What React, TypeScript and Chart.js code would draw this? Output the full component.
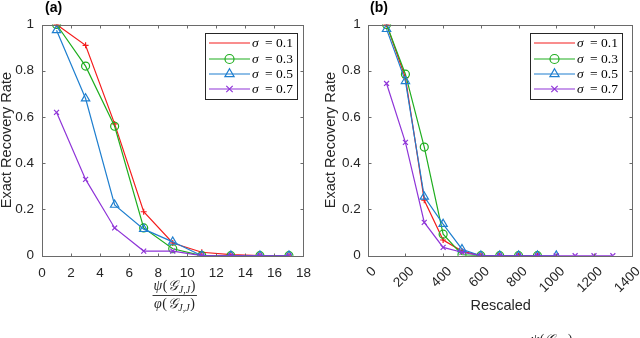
import React, { useEffect, useRef } from 'react';
import { Chart, registerables } from 'chart.js';

Chart.register(...registerables);

// ---------------- data ----------------
const leftX = [1, 3, 5, 7, 9, 11, 13, 15, 17];
const leftS01 = [1.0, 0.91, 0.57, 0.19, 0.055, 0.015, 0.005, 0, 0];
const leftS03 = [1.0, 0.82, 0.56, 0.12, 0.03, 0, 0, 0, 0];
const leftS05 = [0.975, 0.68, 0.22, 0.115, 0.06, 0, 0, 0, 0];
const leftS07 = [0.62, 0.33, 0.12, 0.02, 0.02, 0, 0, 0, 0];

const rightX = [100, 200, 300, 400, 500, 600, 700, 800, 900, 1000, 1100, 1200, 1300];
const rightS01 = [1.0, 0.77, 0.24, 0.068, 0.02, 0, 0, 0, 0];
const rightS03 = [1.0, 0.785, 0.47, 0.093, 0.004, 0, 0, 0, 0];
const rightS05 = [0.98, 0.755, 0.255, 0.137, 0.028, 0, 0, 0, 0, 0];
const rightS07 = [0.745, 0.49, 0.144, 0.036, 0.015, 0, 0, 0, 0, 0, 0, 0, 0];

const sigmaLabels = ['0.1', '0.3', '0.5', '0.7'];
const leftXTicks = { min: 0, max: 18, step: 2 };
const rightXTicks = { min: 0, max: 1400, step: 200 };
const yTicks = { min: 0, max: 1, step: 0.2 };

// ---------------- styles ----------------
const COLORS = ['#f41c1c', '#1fae1f', '#1f7fcf', '#8f35d8'];
const STYLES = ['cross', 'circle', 'triangle', 'crossRot'];
const RADII = [3, 4, 4.8, 3.5];
const TEXT = '#262626';
const AXIS = '#6a6a6a';
const SANS = "'Liberation Sans', Arial, Helvetica, sans-serif";
const SERIF = "'Liberation Serif', 'DejaVu Serif', serif";
const TICK_SIZE = 13.5;
const LABEL_SIZE = 14.5;

function drawMarker(ctx: CanvasRenderingContext2D, style: string, x: number, y: number, r: number, color: string) {
  ctx.save();
  ctx.strokeStyle = color;
  ctx.lineWidth = 1.2;
  ctx.beginPath();
  if (style === 'circle') {
    ctx.arc(x, y, r, 0, Math.PI * 2);
  } else if (style === 'triangle') {
    for (let i = 0; i < 3; i++) {
      const a = (i * 2 * Math.PI) / 3;
      const px = x + Math.sin(a) * r;
      const py = y - Math.cos(a) * r;
      if (i === 0) ctx.moveTo(px, py); else ctx.lineTo(px, py);
    }
    ctx.closePath();
  } else if (style === 'cross') {
    ctx.moveTo(x - r, y); ctx.lineTo(x + r, y);
    ctx.moveTo(x, y - r); ctx.lineTo(x, y + r);
  } else if (style === 'crossRot') {
    const d = r * 0.8;
    ctx.moveTo(x - d, y - d); ctx.lineTo(x + d, y + d);
    ctx.moveTo(x + d, y - d); ctx.lineTo(x - d, y + d);
  }
  ctx.stroke();
  ctx.restore();
}

function drawMath(ctx: CanvasRenderingContext2D, head: string, cx: number, cy: number, size: number) {
  // head(𝒢_{J,J})
  const parts: { t: string; font: string; dy: number }[] = [
    { t: head, font: `italic ${size}px ${SERIF}`, dy: 0 },
    { t: '(', font: `${size}px ${SERIF}`, dy: 0 },
    { t: '𝒢', font: `italic ${size}px ${SERIF}`, dy: 0 },
    { t: 'J,J', font: `italic ${Math.round(size * 0.7)}px ${SERIF}`, dy: size * 0.28 },
    { t: ')', font: `${size}px ${SERIF}`, dy: 0 },
  ];
  let total = 0;
  const widths = parts.map((p) => { ctx.font = p.font; const w = ctx.measureText(p.t).width; total += w + 0.6; return w; });
  let x = cx - total / 2;
  ctx.textBaseline = 'middle';
  ctx.textAlign = 'left';
  parts.forEach((p, i) => {
    ctx.font = p.font;
    ctx.fillText(p.t, x, cy + p.dy);
    x += widths[i] + 0.6;
  });
  return total;
}

interface DecorParams {
  panel: string;
  panelX: number;
  legendBox: { x: number; y: number; w: number; h: number };
  kind: 'fraction' | 'rescaled';
}

function makeDecor(p: DecorParams) {
  return {
    id: 'decor',
    afterDraw(chart: any) {
      const { ctx, chartArea: a, scales } = chart;
      const xs = scales.x;
      const ys = scales.y;
      ctx.save();
      // box
      ctx.strokeStyle = AXIS;
      ctx.lineWidth = 1;
      const L = Math.round(a.left) + 0.5, T = Math.round(a.top) + 0.5;
      const R = Math.round(a.right) + 0.5, B = Math.round(a.bottom) + 0.5;
      ctx.strokeRect(L, T, R - L, B - T);
      // inward ticks
      const tl = 3;
      ctx.beginPath();
      for (const t of xs.ticks) {
        const px = Math.round(xs.getPixelForValue(t.value)) + 0.5;
        ctx.moveTo(px, B); ctx.lineTo(px, B - tl);
        ctx.moveTo(px, T); ctx.lineTo(px, T + tl);
      }
      for (const t of ys.ticks) {
        const py = Math.round(ys.getPixelForValue(t.value)) + 0.5;
        ctx.moveTo(L, py); ctx.lineTo(L + tl, py);
        ctx.moveTo(R, py); ctx.lineTo(R - tl, py);
      }
      ctx.stroke();

      // rotated x tick labels (right panel)
      if (p.kind === 'rescaled') {
        ctx.fillStyle = TEXT;
        ctx.font = `${TICK_SIZE}px ${SANS}`;
        ctx.textAlign = 'right';
        ctx.textBaseline = 'middle';
        for (const t of xs.ticks) {
          const px = xs.getPixelForValue(t.value);
          ctx.save();
          ctx.translate(px + 6.5, a.bottom + 13.5);
          ctx.rotate(-Math.PI / 4);
          ctx.fillText(String(t.value), 0, 0);
          ctx.restore();
        }
      }

      // legend
      const lb = p.legendBox;
      ctx.fillStyle = '#ffffff';
      ctx.fillRect(lb.x, lb.y, lb.w, lb.h);
      ctx.strokeStyle = TEXT;
      ctx.lineWidth = 1;
      ctx.strokeRect(lb.x + 0.5, lb.y + 0.5, lb.w, lb.h);
      const rowYs = [10, 26, 41, 56];
      sigmaLabels.forEach((s, i) => {
        const y = lb.y + rowYs[i];
        const x0 = lb.x + 4, x1 = lb.x + 45;
        ctx.strokeStyle = COLORS[i];
        ctx.lineWidth = 1.2;
        ctx.beginPath(); ctx.moveTo(x0, y); ctx.lineTo(x1, y); ctx.stroke();
        if (i > 0) drawMarker(ctx, STYLES[i], (x0 + x1) / 2, y, RADII[i] + 0.5, COLORS[i]);
        ctx.fillStyle = '#000';
        ctx.textBaseline = 'middle';
        ctx.textAlign = 'left';
        ctx.font = `italic 13.5px ${SERIF}`;
        ctx.fillText('σ', x1 + 2, y);
        ctx.font = `13.5px ${SERIF}`;
        ctx.fillText('=', x1 + 15, y);
        ctx.fillText(s, x1 + 26, y);
      });

      // panel label
      ctx.fillStyle = '#000';
      ctx.font = `bold 14px ${SANS}`;
      ctx.textAlign = 'left';
      ctx.textBaseline = 'top';
      ctx.fillText(p.panel, p.panelX, 1);

      // x label
      const cx = (a.left + a.right) / 2;
      ctx.fillStyle = TEXT;
      if (p.kind === 'fraction') {
        const w = drawMath(ctx, 'ψ', cx + 2, 286, 14);
        ctx.strokeStyle = TEXT;
        ctx.lineWidth = 0.9;
        ctx.beginPath(); ctx.moveTo(cx + 2 - w / 2 - 1, 295.5); ctx.lineTo(cx + 2 + w / 2 + 1, 295.5); ctx.stroke();
        drawMath(ctx, 'φ', cx + 2, 304.5, 14);
      } else {
        ctx.font = `${LABEL_SIZE}px ${SANS}`;
        ctx.textAlign = 'center';
        ctx.textBaseline = 'middle';
        ctx.fillText('Rescaled', cx + 1, 306);
        // partially visible text at the bottom edge
        drawMath(ctx, 'ψ', cx + 52, 340.5, 14);
      }
      ctx.restore();
    },
  };
}

interface PanelProps {
  xs: number[];
  series: number[][];
  xRange: { min: number; max: number; step: number };
  yAxisWidth: number;
  rightPad: number;
  rotate: boolean;
  tickPadY: number;
  titlePad: number;
  decor: DecorParams;
}

function Panel(props: PanelProps) {
  const ref = useRef<HTMLCanvasElement>(null);
  useEffect(() => {
    if (!ref.current) return;
    const datasets = props.series.map((vals, i) => ({
      label: `σ = ${sigmaLabels[i]}`,
      data: vals.map((v, j) => ({ x: props.xs[j], y: v })),
      borderColor: COLORS[i],
      backgroundColor: 'rgba(0,0,0,0)',
      borderWidth: 1.2,
      pointStyle: STYLES[i],
      pointRadius: RADII[i],
      pointBorderWidth: 1.2,
      pointBorderColor: COLORS[i],
      pointBackgroundColor: 'rgba(0,0,0,0)',
      tension: 0,
      fill: false,
      order: 3 - i,
    }));
    const chart = new Chart(ref.current, {
      type: 'line',
      data: { datasets },
      options: {
        animation: false,
        responsive: false,
        maintainAspectRatio: false,
        layout: { padding: { top: 24.5, right: props.rightPad, left: 0, bottom: 0 } },
        plugins: { legend: { display: false }, tooltip: { enabled: false } },
        scales: {
          x: {
            type: 'linear',
            min: props.xRange.min,
            max: props.xRange.max,
            afterBuildTicks: (scale: any) => {
              const t = [];
              for (let v = props.xRange.min; v <= props.xRange.max + 1e-9; v += props.xRange.step) t.push({ value: v });
              scale.ticks = t;
            },
            ticks: {
              display: !props.rotate,
              autoSkip: false,
              color: TEXT,
              font: { family: SANS, size: TICK_SIZE },
              padding: 9,
              maxRotation: 0,
              minRotation: 0,
              callback: (v: any) => String(v),
            },
            grid: { display: false, drawTicks: false },
            border: { display: false },
            afterFit: (scale: any) => { scale.height = 82.3; },
          },
          y: {
            type: 'linear',
            min: yTicks.min,
            max: yTicks.max,
            ticks: {
              stepSize: yTicks.step,
              color: TEXT,
              font: { family: SANS, size: TICK_SIZE },
              padding: props.tickPadY,
              callback: (v: any) => String(Math.round(Number(v) * 10) / 10),
            },
            grid: { display: false, drawTicks: false },
            border: { display: false },
            title: {
              display: true,
              text: 'Exact Recovery Rate',
              color: TEXT,
              font: { family: SANS, size: LABEL_SIZE, lineHeight: 1 },
              padding: { top: props.titlePad, bottom: 0 },
            },
            afterFit: (scale: any) => { scale.width = props.yAxisWidth; },
          },
        },
      },
      plugins: [makeDecor(props.decor)],
    });
    return () => chart.destroy();
  }, []);
  return <canvas ref={ref} width={320} height={338} style={{ display: 'block', width: 320, height: 338 }} />;
}

export default function App() {
  return (
    <div style={{ position: 'absolute', left: 0, top: 0, width: 640, height: 338, background: '#fff', display: 'flex', overflow: 'hidden' }}>
      <Panel
        xs={leftX}
        series={[leftS01, leftS03, leftS05, leftS07]}
        xRange={leftXTicks}
        yAxisWidth={42}
        rightPad={13}
        rotate={false}
        tickPadY={8}
        titlePad={0}
        decor={{ panel: '(a)', panelX: 45, legendBox: { x: 205, y: 33, w: 92, h: 66 }, kind: 'fraction' }}
      />
      <Panel
        xs={rightX}
        series={[rightS01, rightS03, rightS05, rightS07]}
        xRange={rightXTicks}
        yAxisWidth={47.7}
        rightPad={8.3}
        rotate={true}
        tickPadY={7}
        titlePad={3.5}
        decor={{ panel: '(b)', panelX: 50, legendBox: { x: 210, y: 33, w: 92, h: 66 }, kind: 'rescaled' }}
      />
    </div>
  );
}
